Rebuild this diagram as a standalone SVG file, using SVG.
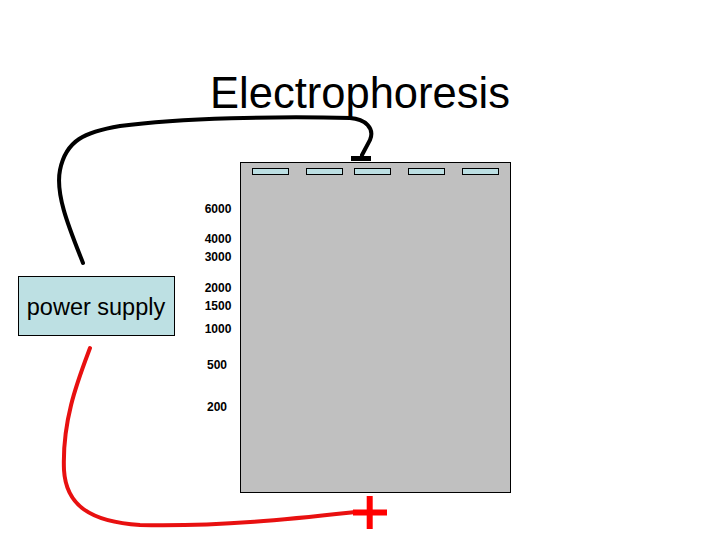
<svg xmlns="http://www.w3.org/2000/svg" width="720" height="540" viewBox="0 0 720 540">
<style>
.lbl{font-family:"Liberation Sans",Arial,sans-serif;font-size:12px;font-weight:bold;text-anchor:middle;fill:#000}
.well{fill:#bcdfe3;stroke:#000;stroke-width:1}
.wire{fill:none;stroke-width:4;stroke-linecap:round}
</style>
<rect width="720" height="540" fill="#fff"/>
<text x="360" y="108" font-family="Liberation Sans,Arial,sans-serif" font-size="43.5" text-anchor="middle">Electrophoresis</text>
<g id="gel">
<rect x="240.5" y="162.5" width="270" height="330" fill="#c0c0c0" stroke="#000" stroke-width="1"/>
<rect class="well" x="252.5" y="168.5" width="36" height="6"/>
<rect class="well" x="306.5" y="168.5" width="36" height="6"/>
<rect class="well" x="354.5" y="168.5" width="36" height="6"/>
<rect class="well" x="408.5" y="168.5" width="36" height="6"/>
<rect class="well" x="462.5" y="168.5" width="36" height="6"/>
</g>
<g id="ladder">
<text class="lbl" x="218" y="213">6000</text>
<text class="lbl" x="218" y="243">4000</text>
<text class="lbl" x="218" y="261">3000</text>
<text class="lbl" x="218" y="292">2000</text>
<text class="lbl" x="218" y="310">1500</text>
<text class="lbl" x="218" y="333">1000</text>
<text class="lbl" x="217" y="369">500</text>
<text class="lbl" x="217" y="411">200</text>
</g>
<g id="power-supply">
<rect x="18.5" y="276.5" width="156" height="59" fill="#bde0e3" stroke="#000" stroke-width="1"/>
<text x="96" y="315" font-family="Liberation Sans,Arial,sans-serif" font-size="23.5" text-anchor="middle">power supply</text>
</g>
<g id="connectors">
<path class="wire" stroke="#000" d="M83,263 C70,230 55,195 60,170 C66,140 85,132 120,126 C180,118 280,116 350,118 C365,119 375,128 370,140 L362,155"/>
<rect x="351" y="156" width="20" height="5" fill="#000"/>
<path class="wire" stroke="#e81010" d="M90,348 C78,380 62,420 64,470 C66,505 90,522 140,525 C220,527 300,518 355,512"/>
<rect x="366.7" y="496" width="6" height="33" fill="#f00"/>
<rect x="353" y="509.5" width="34" height="6" fill="#f00"/>
</g>
</svg>
